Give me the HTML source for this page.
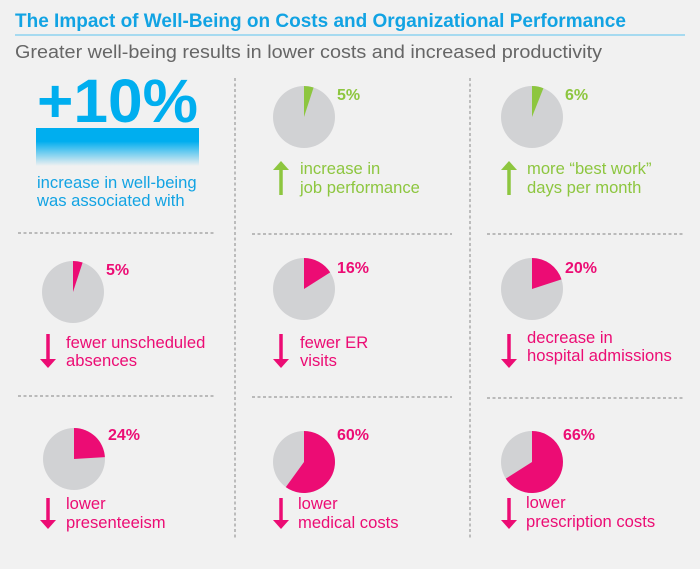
<!DOCTYPE html>
<html><head><meta charset="utf-8"><style>
html,body{margin:0;padding:0;background:#f1f1f1;}
svg{display:block;font-family:"Liberation Sans",Arial,sans-serif;}
</style></head><body>
<svg width="700" height="569" viewBox="0 0 700 569" xmlns="http://www.w3.org/2000/svg">
<defs>
<linearGradient id="g" x1="0" y1="0" x2="0" y2="1">
<stop offset="0" stop-color="#00aeef"/><stop offset="0.35" stop-color="#00aeef"/><stop offset="1" stop-color="#00aeef" stop-opacity="0"/>
</linearGradient>
</defs>
<rect width="700" height="569" fill="#f1f1f1"/>
<text x="15" y="27" font-size="19" font-weight="bold" fill="#12a3e3">The Impact of Well-Being on Costs and Organizational Performance</text>
<line x1="15" y1="35" x2="685" y2="35" stroke="#5cc2ee" stroke-width="1"/>
<text x="15" y="58" font-size="18" fill="#666" textLength="587" lengthAdjust="spacingAndGlyphs">Greater well-being results in lower costs and increased productivity</text>

<g stroke="#9a9a9a" stroke-width="1.2" stroke-dasharray="3,2.5" fill="none">
<line x1="235" y1="78" x2="235" y2="540"/>
<line x1="470" y1="78" x2="470" y2="540"/>
<line x1="18" y1="233" x2="216" y2="233"/>
<line x1="252" y1="234" x2="452" y2="234"/>
<line x1="487" y1="234" x2="685" y2="234"/>
<line x1="18" y1="396" x2="216" y2="396"/>
<line x1="252" y1="397" x2="452" y2="397"/>
<line x1="487" y1="398" x2="685" y2="398"/>
</g>

<text x="37" y="122" font-size="61" font-weight="bold" fill="#00aeef" textLength="161" lengthAdjust="spacingAndGlyphs">+10%</text>
<rect x="36" y="128" width="163" height="38" fill="url(#g)"/>
<g font-size="16.6">
<text x="37" y="188" fill="#12a3e3">increase in well-being</text>
<text x="37" y="206" fill="#12a3e3">was associated with</text>
</g>

<g font-size="16.6">
<!-- row1 col2 -->
<circle cx="304" cy="117" r="31" fill="#d1d2d4"/>
<path d="M304,117 L304,86 A31,31 0 0 1 313.6,87.5 Z" fill="#8dc63f"/>
<text x="337" y="100" font-size="16" font-weight="bold" fill="#8dc63f">5%</text>
<line x1="281" y1="167" x2="281" y2="195" stroke="#8dc63f" stroke-width="3.5"/>
<path d="M273,170 L281,161 L289,170 Z" fill="#8dc63f"/>
<text x="300" y="174" fill="#8dc63f">increase in</text>
<text x="300" y="193" fill="#8dc63f">job performance</text>

<!-- row1 col3 -->
<circle cx="532" cy="117" r="31" fill="#d1d2d4"/>
<path d="M532,117 L532,86 A31,31 0 0 1 543.4,88.2 Z" fill="#8dc63f"/>
<text x="565" y="100" font-size="16" font-weight="bold" fill="#8dc63f">6%</text>
<line x1="509" y1="167" x2="509" y2="195" stroke="#8dc63f" stroke-width="3.5"/>
<path d="M501,170 L509,161 L517,170 Z" fill="#8dc63f"/>
<text x="527" y="174" fill="#8dc63f">more “best work”</text>
<text x="527" y="193" fill="#8dc63f">days per month</text>

<!-- row2 -->
<circle cx="73" cy="292" r="31" fill="#d1d2d4"/>
<path d="M73,292 L73,261 A31,31 0 0 1 82.6,262.5 Z" fill="#ec0c74"/>
<text x="106" y="275" font-size="16" font-weight="bold" fill="#ec0c74">5%</text>
<line x1="48" y1="334" x2="48" y2="362" stroke="#ec0c74" stroke-width="3.5"/>
<path d="M40,359 L48,368 L56,359 Z" fill="#ec0c74"/>
<text x="66" y="348" fill="#ec0c74">fewer unscheduled</text>
<text x="66" y="366" fill="#ec0c74">absences</text>

<circle cx="304" cy="289" r="31" fill="#d1d2d4"/>
<path d="M304,289 L304,258 A31,31 0 0 1 330.2,272.4 Z" fill="#ec0c74"/>
<text x="337" y="273" font-size="16" font-weight="bold" fill="#ec0c74">16%</text>
<line x1="281" y1="334" x2="281" y2="362" stroke="#ec0c74" stroke-width="3.5"/>
<path d="M273,359 L281,368 L289,359 Z" fill="#ec0c74"/>
<text x="300" y="348" fill="#ec0c74">fewer ER</text>
<text x="300" y="366" fill="#ec0c74">visits</text>

<circle cx="532" cy="289" r="31" fill="#d1d2d4"/>
<path d="M532,289 L532,258 A31,31 0 0 1 561.5,279.4 Z" fill="#ec0c74"/>
<text x="565" y="273" font-size="16" font-weight="bold" fill="#ec0c74">20%</text>
<line x1="509" y1="334" x2="509" y2="362" stroke="#ec0c74" stroke-width="3.5"/>
<path d="M501,359 L509,368 L517,359 Z" fill="#ec0c74"/>
<text x="527" y="343" fill="#ec0c74">decrease in</text>
<text x="527" y="361" fill="#ec0c74">hospital admissions</text>

<!-- row3 -->
<circle cx="74" cy="459" r="31" fill="#d1d2d4"/>
<path d="M74,459 L74,428 A31,31 0 0 1 104.9,457.1 Z" fill="#ec0c74"/>
<text x="108" y="440" font-size="16" font-weight="bold" fill="#ec0c74">24%</text>
<line x1="48" y1="498" x2="48" y2="522" stroke="#ec0c74" stroke-width="3.5"/>
<path d="M40,520 L48,529 L56,520 Z" fill="#ec0c74"/>
<text x="66" y="509" fill="#ec0c74">lower</text>
<text x="66" y="528" fill="#ec0c74">presenteeism</text>

<circle cx="304" cy="462" r="31" fill="#d1d2d4"/>
<path d="M304,462 L304,431 A31,31 0 1 1 285.8,487.1 Z" fill="#ec0c74"/>
<text x="337" y="440" font-size="16" font-weight="bold" fill="#ec0c74">60%</text>
<line x1="281" y1="498" x2="281" y2="522" stroke="#ec0c74" stroke-width="3.5"/>
<path d="M273,520 L281,529 L289,520 Z" fill="#ec0c74"/>
<text x="298" y="509" fill="#ec0c74">lower</text>
<text x="298" y="528" fill="#ec0c74">medical costs</text>

<circle cx="532" cy="462" r="31" fill="#d1d2d4"/>
<path d="M532,462 L532,431 A31,31 0 1 1 505.8,478.6 Z" fill="#ec0c74"/>
<text x="563" y="440" font-size="16" font-weight="bold" fill="#ec0c74">66%</text>
<line x1="509" y1="498" x2="509" y2="522" stroke="#ec0c74" stroke-width="3.5"/>
<path d="M501,520 L509,529 L517,520 Z" fill="#ec0c74"/>
<text x="526" y="508" fill="#ec0c74">lower</text>
<text x="526" y="527" fill="#ec0c74">prescription costs</text>
</g>
</svg>
</body></html>
